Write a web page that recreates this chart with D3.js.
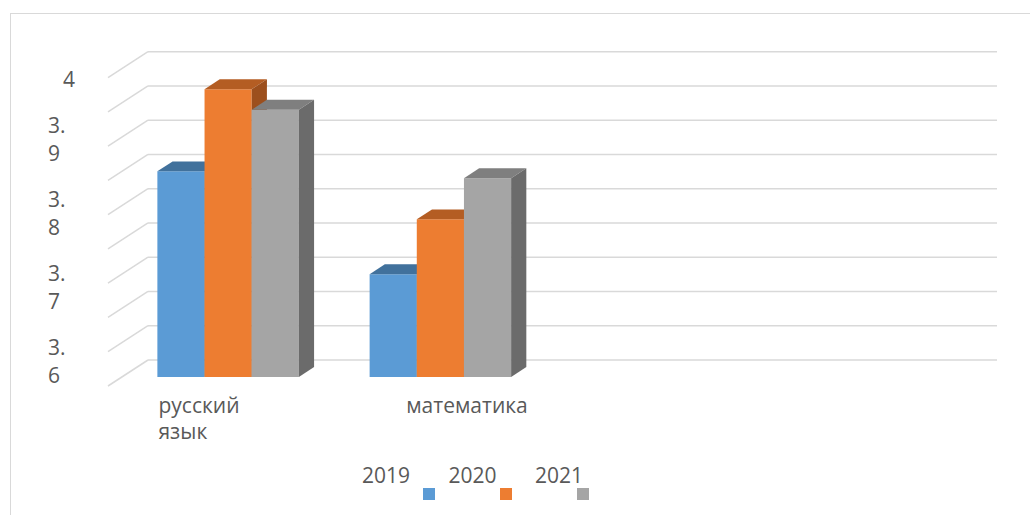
<!DOCTYPE html>
<meta charset="utf-8">
<style>

body {
  margin: 0;
  background: #fff;
}

svg {
  display: block;
  font-family: "Open Sans", sans-serif;
}

.grid line {
  stroke: #d9d9d9;
  stroke-width: 1.5;
}

.label {
  fill: #595959;
  font-size: 21px;
}

</style>
<body>
  <svg width="1030" height="515"></svg>
</body>

<script src="https://d3js.org/d3.v7.min.js"></script>
<script>

// data
var categories = ["русский язык", "математика", "", ""];
var years = ["2019", "2020", "2021"];
var values2019 = [3.85, 3.70];
var values2020 = [3.97, 3.78];
var values2021 = [3.94, 3.84];
var tickValues = [4.0, 3.9, 3.8, 3.7, 3.6];
var tickLabels = ["4", "3.9", "3.8", "3.7", "3.6"];

var series = [values2019, values2020, values2021];
var faces = [
  {front: "#5b9bd5", top: "#41719c", side: "#3a6590"},
  {front: "#ed7d31", top: "#b45d23", side: "#9c4f1d"},
  {front: "#a5a5a5", top: "#7f7f7f", side: "#6b6b6b"}
];

var svg = d3.select("svg");

// back wall of the 3d plot, and the depth vector (back -> front)
var wall = {left: 148, right: 997, top: 51.7, bottom: 360},
    depthX = 40, depthY = 26,
    barFront = 0.65, barBack = 0.27;

function P(x, y, t) { return [x - depthX * t, y + depthY * t]; }

var y = d3.scaleLinear()
    .domain([3.55, 4.0])
    .range([wall.bottom, wall.top]);

var x = d3.scaleBand()
    .domain(d3.range(categories.length))
    .range([wall.left, wall.right]);

var xs = d3.scaleBand()
    .domain(years)
    .range([0, x.bandwidth()])
    .paddingOuter(0.75);

// chart border
svg.append("rect")
    .attr("x", 10.5)
    .attr("y", 13.5)
    .attr("width", 1030)
    .attr("height", 520)
    .attr("fill", "none")
    .attr("stroke", "#d9d9d9");

// gridlines: back wall + floor/side diagonal
var grid = svg.append("g").attr("class", "grid");

y.ticks(10).forEach(function(t) {
  var yy = y(t), f = P(wall.left, yy, 1);
  grid.append("line")
      .attr("x1", wall.left).attr("y1", yy)
      .attr("x2", wall.right).attr("y2", yy);
  grid.append("line")
      .attr("x1", wall.left).attr("y1", yy)
      .attr("x2", f[0]).attr("y2", f[1]);
});

// bars
var bars = svg.append("g");

function poly(pts) { return "M" + pts.join("L") + "Z"; }

categories.forEach(function(c, i) {
  series.forEach(function(vals, j) {
    if (vals[i] == null) return;
    var x0 = x(i) + xs(years[j]),
        x1 = x0 + xs.bandwidth(),
        yt = y(vals[i]),
        yb = y(y.domain()[0]);
    var g = bars.append("g");
    g.append("path")
        .attr("d", poly([P(x0, yt, barFront), P(x1, yt, barFront), P(x1, yb, barFront), P(x0, yb, barFront)]))
        .attr("fill", faces[j].front);
    g.append("path")
        .attr("d", poly([P(x0, yt, barFront), P(x1, yt, barFront), P(x1, yt, barBack), P(x0, yt, barBack)]))
        .attr("fill", faces[j].top);
    g.append("path")
        .attr("d", poly([P(x1, yt, barFront), P(x1, yt, barBack), P(x1, yb, barBack), P(x1, yb, barFront)]))
        .attr("fill", faces[j].side);
  });
});

// value axis labels (excel wraps "3.9" into "3." / "9")
var labelY = d3.scaleLinear()
    .domain([3.6, 4.0])
    .range([383, 87]);

tickValues.forEach(function(v, i) {
  var lab = tickLabels[i],
      lines = lab.indexOf(".") > 0 ? [lab.slice(0, lab.indexOf(".") + 1), lab.slice(lab.indexOf(".") + 1)] : [lab];
  var t = svg.append("text")
      .attr("class", "label")
      .attr("x", lines.length > 1 ? 48 : 63)
      .attr("y", labelY(v) - (lines.length - 1) * 27.6);
  lines.forEach(function(l, k) {
    t.append("tspan")
        .attr("x", lines.length > 1 ? 48 : 63)
        .attr("dy", k ? 27.6 : 0)
        .text(l);
  });
});

// category labels, wrapped block centred, lines left aligned
var labelX = d3.scalePoint()
    .domain(d3.range(categories.length))
    .range([199, 199 + 3 * 268]);

categories.forEach(function(c, i) {
  if (!c) return;
  var words = c.split(" ");
  var t = svg.append("text")
      .attr("class", "label")
      .attr("y", 413);
  var spans = words.map(function(w, k) {
    return t.append("tspan")
        .attr("dy", k ? 26 : 0)
        .text(w);
  });
  var wmax = d3.max(spans, function(s) { return s.node().getComputedTextLength(); });
  spans.forEach(function(s) { s.attr("x", labelX(i) - wmax / 2); });
});

// legend
var legend = svg.append("g");

years.forEach(function(yr, j) {
  legend.append("text")
      .attr("class", "label")
      .attr("x", 362 + j * 86.5)
      .attr("y", 483)
      .text(yr);
  legend.append("rect")
      .attr("x", 423 + j * 77)
      .attr("y", 488)
      .attr("width", 12)
      .attr("height", 12)
      .attr("fill", faces[j].front);
});

</script>
